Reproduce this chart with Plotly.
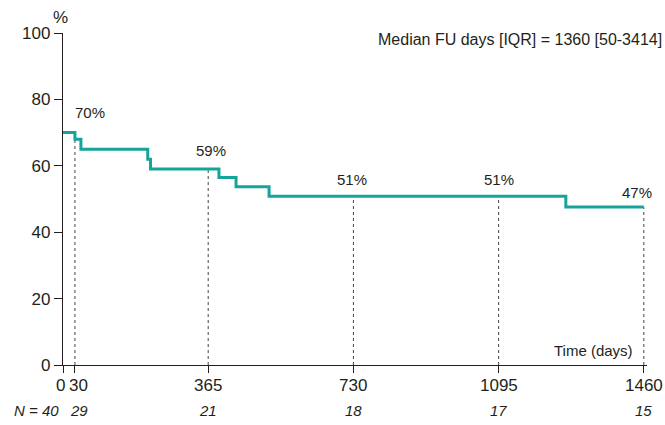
import plotly.graph_objects as go

# Kaplan-Meier style step data (days, survival %)
step_days = [0, 30, 45, 213, 220, 392, 435, 518, 1264, 1460]
step_surv = [70, 68, 65, 62, 59, 56.5, 53.7, 50.8, 47.6, 47.6]

tick_days = [0, 30, 365, 730, 1095, 1460]
tick_labels = ["0", "30", "365", "730", "1095", "1460"]
n_at_risk = ["N = 40", "29", "21", "18", "17", "15"]

marker_days = [30, 365, 730, 1095, 1460]
marker_vals = [68, 59, 50.8, 50.8, 47.6]
pct_labels = ["70%", "59%", "51%", "51%", "47%"]
pct_label_x = [68, 372, 726, 1095, 1442]
pct_label_y = [76, 64.5, 56, 56, 52]

TEAL = "#16a39c"
INK = "#231f20"
FONT = "Liberation Sans, Arial, sans-serif"

fig = go.Figure()

# dotted vertical reference lines
for d, v in zip(marker_days, marker_vals):
    fig.add_trace(go.Scatter(x=[d, d], y=[0, v], mode="lines",
                             line=dict(color="#444444", width=1, dash="dot"),
                             hoverinfo="skip", showlegend=False))

fig.add_trace(go.Scatter(x=step_days, y=step_surv, mode="lines",
                         line=dict(color=TEAL, width=3, shape="hv"),
                         showlegend=False))

ann = []
for x, y, t in zip(pct_label_x, pct_label_y, pct_labels):
    ann.append(dict(x=x, y=y, xref="x", yref="y", text=t, showarrow=False,
                    font=dict(size=15, color=INK, family=FONT)))

xshifts = [-3, 4, 0, 0, 0, 0]
for d, t, xs in zip(tick_days, tick_labels, xshifts):
    ann.append(dict(x=d, y=0, xref="x", yref="y", text=t, showarrow=False,
                    yanchor="middle", yshift=-20, xshift=xs,
                    font=dict(size=17, color=INK, family=FONT)))

for i, (d, t) in enumerate(zip(tick_days, n_at_risk)):
    if i == 0:
        ann.append(dict(x=d, y=0, xref="x", yref="y", text="<i>" + t + "</i>",
                        showarrow=False, xanchor="right", yanchor="middle",
                        yshift=-45, xshift=-2,
                        font=dict(size=15, color=INK, family=FONT)))
    else:
        ann.append(dict(x=d, y=0, xref="x", yref="y", text="<i>" + t + "</i>",
                        showarrow=False, yanchor="middle", yshift=-45,
                        xshift=xshifts[i],
                        font=dict(size=15, color=INK, family=FONT)))

ann.append(dict(x=1460, y=0, xref="x", yref="y", text="Time (days)",
                showarrow=False, xanchor="right", yanchor="middle",
                xshift=-9, yshift=15,
                font=dict(size=15, color=INK, family=FONT)))
ann.append(dict(x=1, y=1, xref="paper", yref="paper",
                text="Median FU days [IQR] = 1360 [50-3414]",
                showarrow=False, xanchor="right", yanchor="middle",
                xshift=17, yshift=-6,
                font=dict(size=16, color=INK, family=FONT)))
ann.append(dict(x=0, y=100, xref="x", yref="y", text="%", showarrow=False,
                xanchor="center", yanchor="middle", xshift=-3, yshift=16,
                font=dict(size=17, color=INK, family=FONT)))

fig.update_layout(
    width=665, height=425,
    margin=dict(l=63, r=18, t=33, b=60),
    paper_bgcolor="white", plot_bgcolor="white",
    annotations=ann,
    xaxis=dict(range=[0, 1468], tickvals=tick_days, showticklabels=False,
               ticks="outside", ticklen=7, tickcolor=INK, showline=True,
               linecolor=INK, linewidth=1.3, showgrid=False, zeroline=False,
               fixedrange=True),
    yaxis=dict(range=[0, 100], tickvals=[0, 20, 40, 60, 80, 100],
               ticks="outside", ticklen=8, tickcolor=INK, showline=True,
               linecolor=INK, linewidth=1.3, showgrid=False, zeroline=False,
               tickfont=dict(size=17, color=INK, family=FONT),
               fixedrange=True),
)

fig.write_html("out.html", config={"displayModeBar": False},
               post_script="document.body.style.margin='0';"
                           "document.body.style.overflow='hidden';")
